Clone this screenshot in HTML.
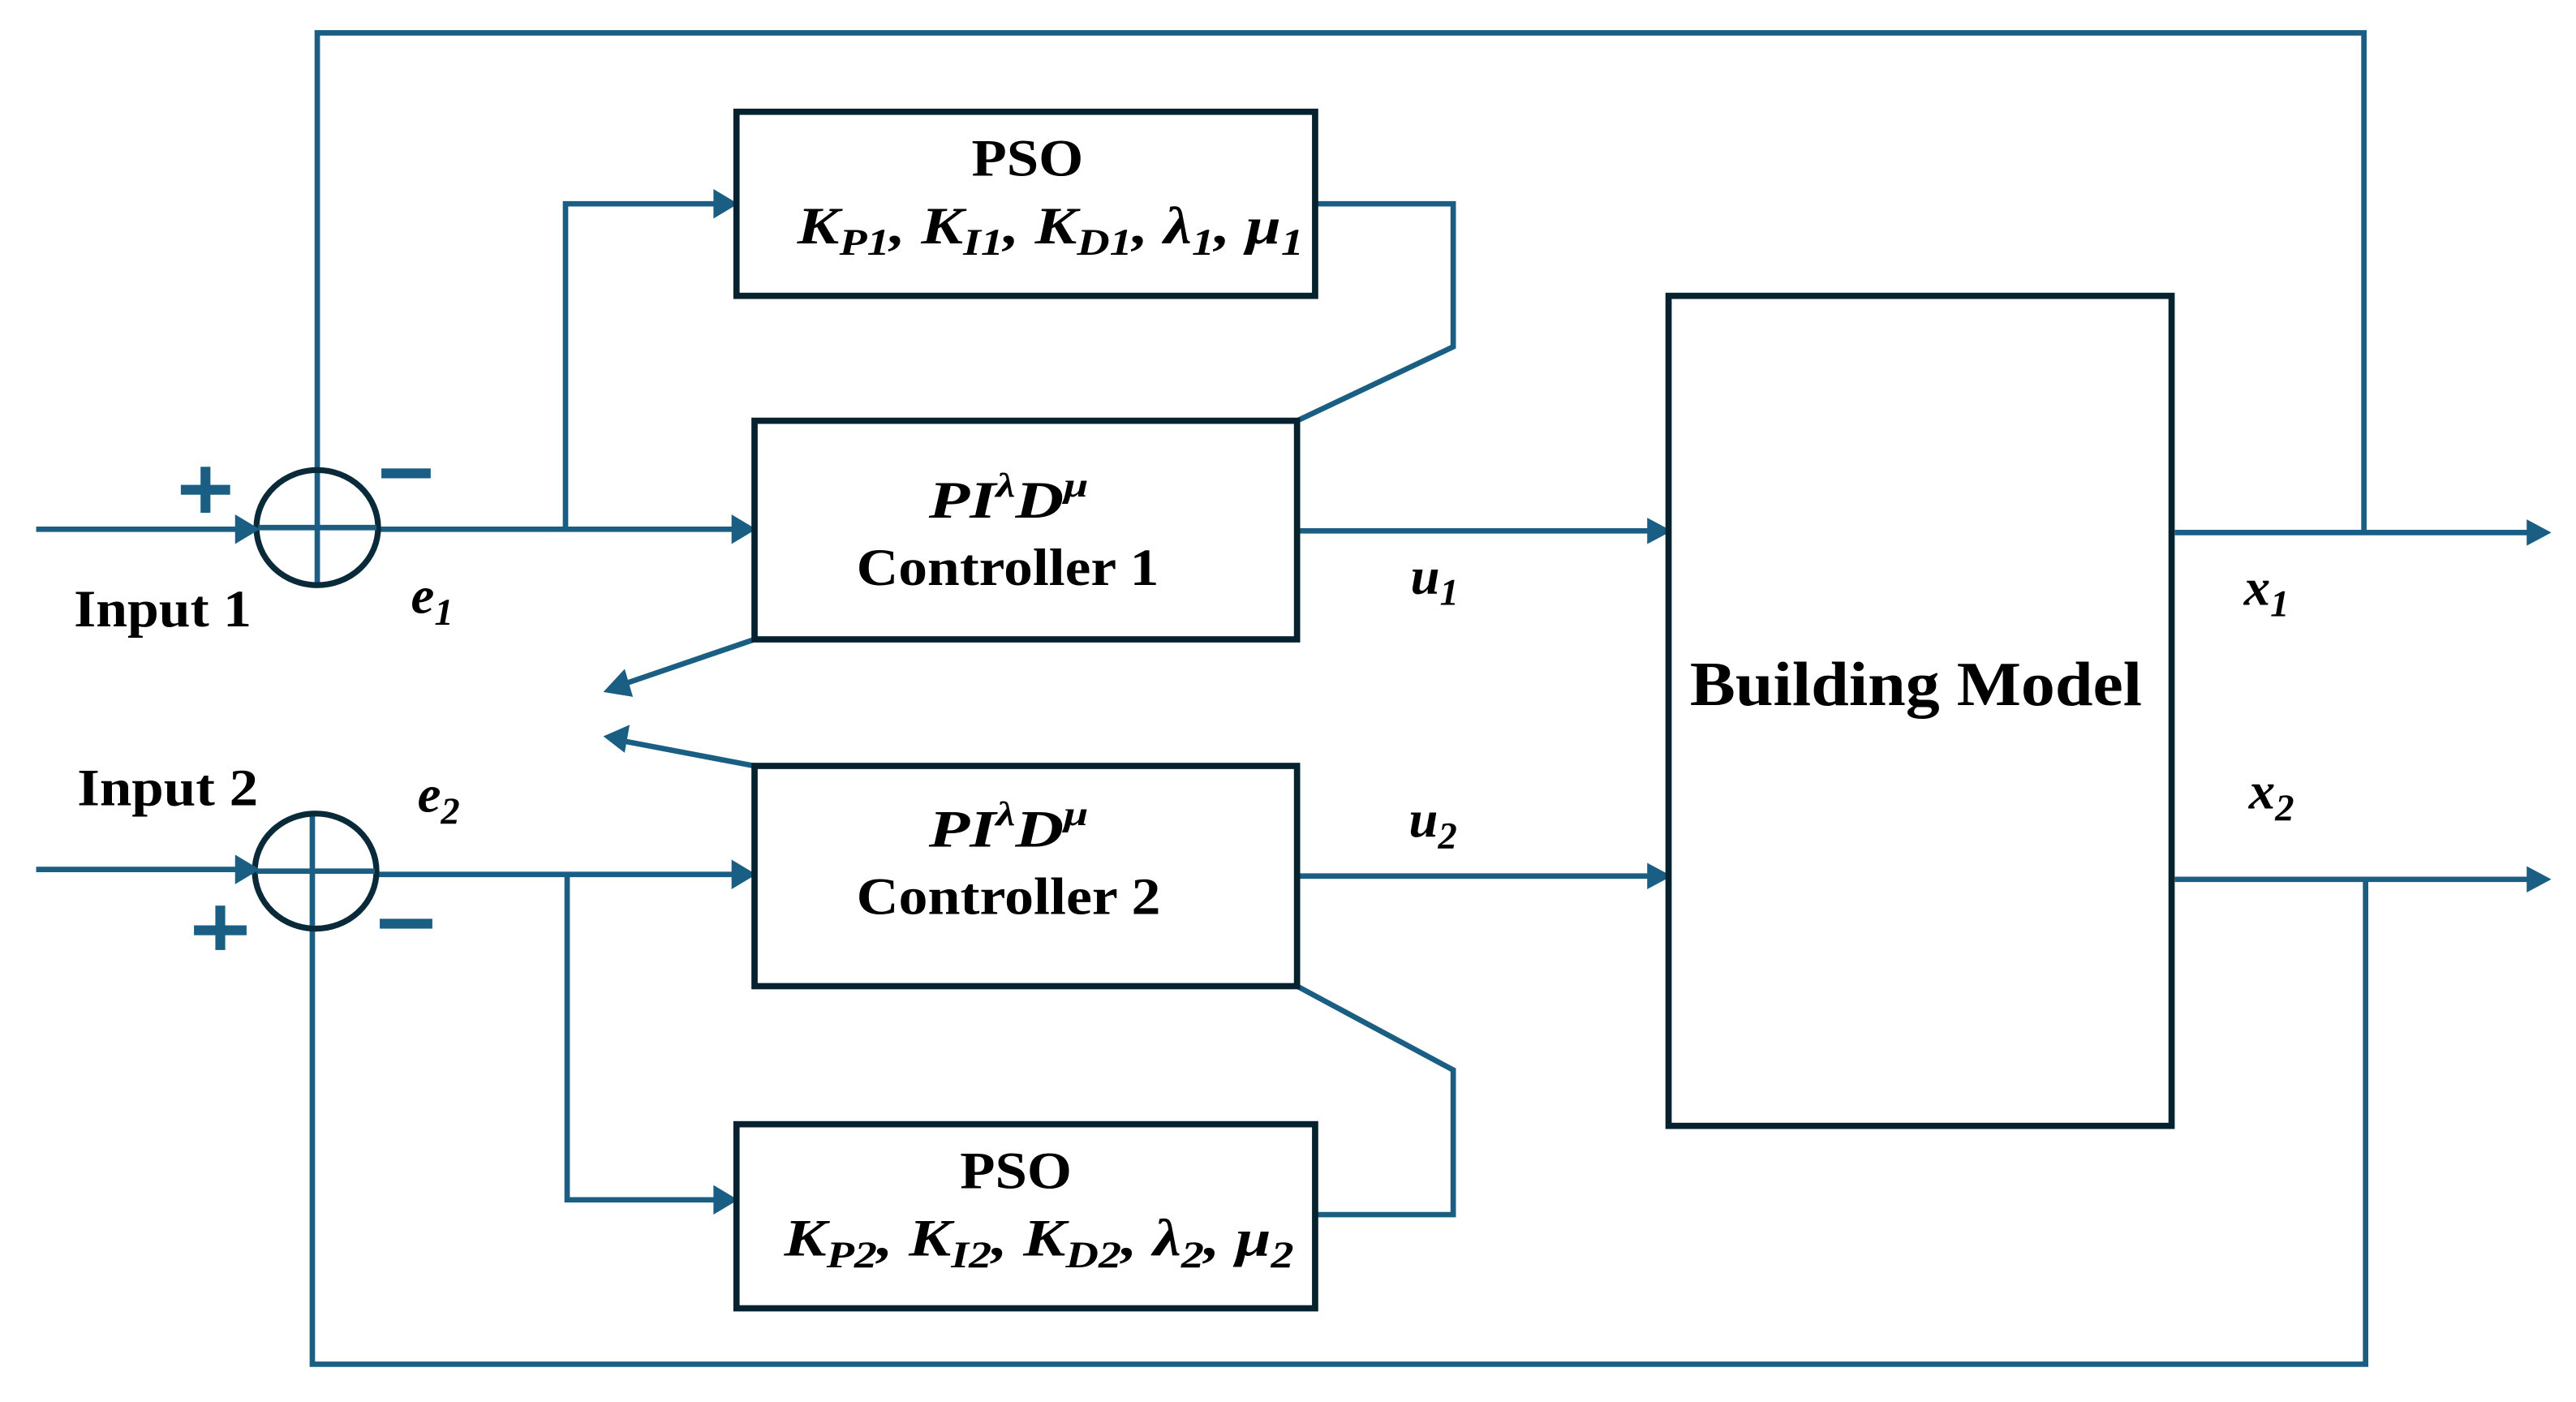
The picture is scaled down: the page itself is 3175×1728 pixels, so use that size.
<!DOCTYPE html>
<html><head><meta charset="utf-8"><style>
html,body{margin:0;padding:0;background:#fff;}
svg{display:block;}
text{font-family:"Liberation Serif",serif;font-weight:bold;fill:#000;}
.i{font-style:italic;}
</style></head><body>
<svg width="3175" height="1728" viewBox="0 0 1567 853" preserveAspectRatio="none" xmlns="http://www.w3.org/2000/svg">
<g fill="none" stroke="#1a5f83" stroke-width="3.3">
<polyline points="193,356 193,20 1438,20 1438,324"/>
<polyline points="190,495 190,830 1439,830 1439,535"/>
<line x1="22" y1="322" x2="145" y2="322"/>
<line x1="230" y1="322" x2="448" y2="322"/>
<polyline points="344,322 344,124 437,124"/>
<line x1="22" y1="529" x2="145" y2="529"/>
<line x1="228" y1="532" x2="448" y2="532"/>
<polyline points="345,532 345,730 437,730"/>
<polyline points="800,124 884,124 884,211 789,256"/>
<polyline points="800,739 884,739 884,651 789,600"/>
<line x1="789" y1="323" x2="1003" y2="323"/>
<line x1="789" y1="533" x2="1003" y2="533"/>
<line x1="1323" y1="324" x2="1538" y2="324"/>
<line x1="1323" y1="535" x2="1538" y2="535"/>
<line x1="459" y1="389" x2="380" y2="416"/>
<line x1="459" y1="466" x2="380" y2="451"/>
<ellipse cx="193" cy="321" rx="37" ry="35" stroke="#0a2a3a" stroke-width="3.6"/>
<ellipse cx="192" cy="530" rx="37" ry="35" stroke="#0a2a3a" stroke-width="3.6"/>
<line x1="157" y1="321" x2="229" y2="321"/>
<line x1="156" y1="530" x2="228" y2="530"/>
</g>
<g fill="#1a5f83">
<polygon points="158,322 143,313 143,331"/>
<polygon points="460,322 445,313 445,331"/>
<polygon points="449,124 434,115 434,133"/>
<polygon points="158,529 143,520 143,538"/>
<polygon points="460,532 445,523 445,541"/>
<polygon points="449,730 434,721 434,739"/>
<polygon points="1017,323 1002,315 1002,331"/>
<polygon points="1017,533 1002,525 1002,541"/>
<polygon points="1552,324 1537,316 1537,332"/>
<polygon points="1552,535 1537,527 1537,543"/>
<polygon points="367,421 380,407 385,424"/>
<polygon points="367,448 383,441 380,458"/>
<rect x="110" y="295" width="30" height="6"/><rect x="122" y="284" width="6" height="28"/>
<rect x="232" y="285" width="30" height="6"/>
<rect x="118" y="563" width="32" height="6"/><rect x="131" y="551" width="6" height="27"/>
<rect x="231" y="559" width="32" height="6"/>
</g>
<g fill="none" stroke="#06222f" stroke-width="3.8">
<rect x="448" y="68" width="352" height="112"/>
<rect x="459" y="256" width="330" height="133"/>
<rect x="459" y="466" width="330" height="134"/>
<rect x="448" y="684" width="352" height="112"/>
<rect x="1015" y="180" width="306" height="505"/>
</g>
<g font-size="32">
<text x="591" y="107" textLength="68" lengthAdjust="spacingAndGlyphs">PSO</text>
<text x="485" y="148" class="i" textLength="308" lengthAdjust="spacingAndGlyphs">K<tspan font-size="23" dy="7">P1</tspan><tspan dy="-7">, K</tspan><tspan font-size="23" dy="7">I1</tspan><tspan dy="-7">, K</tspan><tspan font-size="23" dy="7">D1</tspan><tspan dy="-7">, λ</tspan><tspan font-size="23" dy="7">1</tspan><tspan dy="-7">, μ</tspan><tspan font-size="23" dy="7">1</tspan></text>
<text x="565" y="315" class="i" textLength="97" lengthAdjust="spacingAndGlyphs">PI<tspan font-size="21" dy="-13">λ</tspan><tspan dy="13">D</tspan><tspan font-size="21" dy="-13">μ</tspan></text>
<text x="521" y="356" textLength="184" lengthAdjust="spacingAndGlyphs">Controller 1</text>
<text x="565" y="515" class="i" textLength="97" lengthAdjust="spacingAndGlyphs">PI<tspan font-size="21" dy="-13">λ</tspan><tspan dy="13">D</tspan><tspan font-size="21" dy="-13">μ</tspan></text>
<text x="521" y="556" textLength="185" lengthAdjust="spacingAndGlyphs">Controller 2</text>
<text x="584" y="723" textLength="68" lengthAdjust="spacingAndGlyphs">PSO</text>
<text x="477" y="764" class="i" textLength="310" lengthAdjust="spacingAndGlyphs">K<tspan font-size="23" dy="7">P2</tspan><tspan dy="-7">, K</tspan><tspan font-size="23" dy="7">I2</tspan><tspan dy="-7">, K</tspan><tspan font-size="23" dy="7">D2</tspan><tspan dy="-7">, λ</tspan><tspan font-size="23" dy="7">2</tspan><tspan dy="-7">, μ</tspan><tspan font-size="23" dy="7">2</tspan></text>
<text x="1028" y="429" font-size="38" textLength="275" lengthAdjust="spacingAndGlyphs">Building Model</text>
<text x="45" y="381" textLength="108" lengthAdjust="spacingAndGlyphs">Input 1</text>
<text x="47" y="490" textLength="110" lengthAdjust="spacingAndGlyphs">Input 2</text>
<text x="250" y="373" class="i">e<tspan font-size="23" dy="7">1</tspan></text>
<text x="254" y="494" class="i">e<tspan font-size="23" dy="7">2</tspan></text>
<text x="858" y="361" class="i">u<tspan font-size="23" dy="7">1</tspan></text>
<text x="857" y="509" class="i">u<tspan font-size="23" dy="7">2</tspan></text>
<text x="1365" y="368" class="i">x<tspan font-size="23" dy="7">1</tspan></text>
<text x="1368" y="492" class="i">x<tspan font-size="23" dy="7">2</tspan></text>
</g>
</svg>
</body></html>
